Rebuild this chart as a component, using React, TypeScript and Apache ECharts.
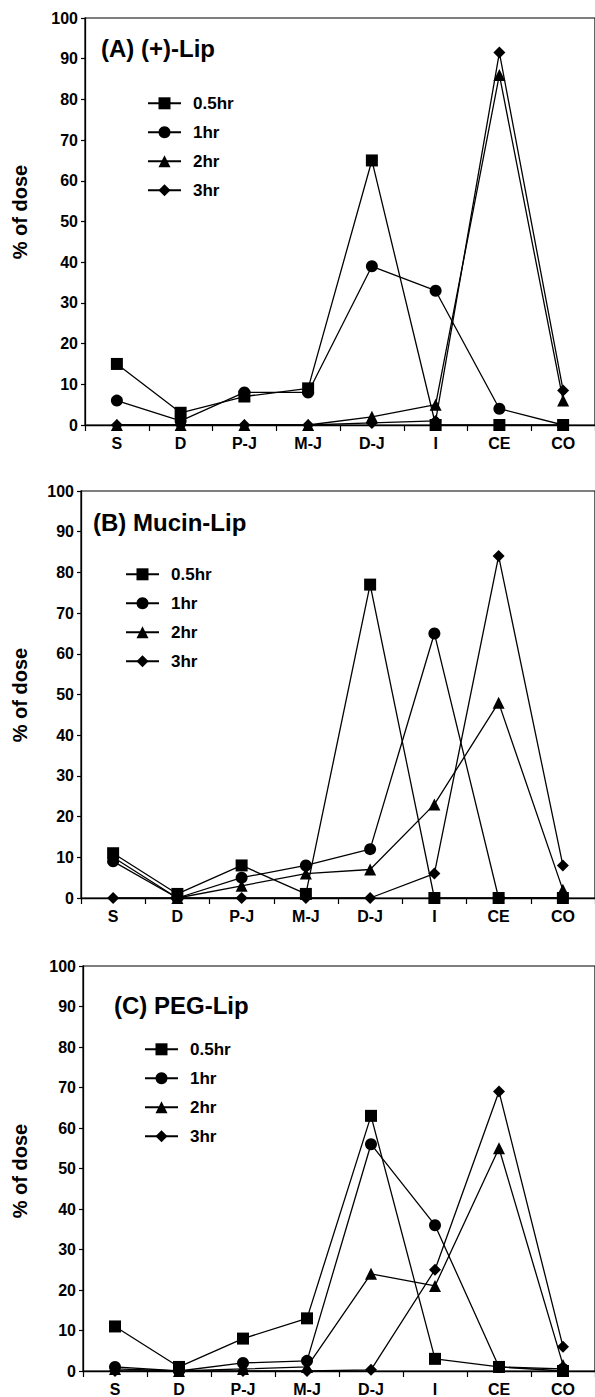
import React, { useEffect, useRef } from 'react';
import * as echarts from 'echarts';

const categories = ['S', 'D', 'P-J', 'M-J', 'D-J', 'I', 'CE', 'CO'];
const seriesNames = ['0.5hr', '1hr', '2hr', '3hr'];
const seriesSymbols = ['rect', 'circle', 'triangle', 'diamond'];
const seriesSymbolSizes = [12, 12, 12, 12];

const panelTitles = ['(A) (+)-Lip', '(B) Mucin-Lip', '(C) PEG-Lip'];
const yAxisTitle = '% of dose';

// Panel A: (+)-Lip
const A_05 = [15, 3, 7, 9, 65, 0, 0, 0];
const A_1 = [6, 1, 8, 8, 39, 33, 4, 0];
const A_2 = [0, 0, 0, 0, 2, 5, 86, 6];
const A_3 = [0, 0, 0, 0, 0.5, 1, 91.5, 8.5];

// Panel B: Mucin-Lip
const B_05 = [11, 1, 8, 1, 77, 0, 0, 0];
const B_1 = [9, 0, 5, 8, 12, 65, 0, 0];
const B_2 = [10, 0, 3, 6, 7, 23, 48, 2];
const B_3 = [0, 0, 0, 0, 0, 6, 84, 8];

// Panel C: PEG-Lip
const C_05 = [11, 1, 8, 13, 63, 3, 1, 0];
const C_1 = [1, 0, 2, 2.5, 56, 36, 1, 0.5];
const C_2 = [0.5, 0, 0.5, 1, 24, 21, 55, 1.5];
const C_3 = [0, 0, 0, 0, 0.3, 25, 69, 6];

const panelData = [
  [A_05, A_1, A_2, A_3],
  [B_05, B_1, B_2, B_3],
  [C_05, C_1, C_2, C_3],
];

const FONT = '"Liberation Sans", Arial, Helvetica, sans-serif';

// layout (pixels)
const grids = [
  { left: 85, top: 18, width: 514, height: 407 },
  { left: 81, top: 491, width: 515, height: 407 },
  { left: 83, top: 966, width: 515, height: 407 },
];
const titlePos = [
  { x: 101, y: 48 },
  { x: 93, y: 522 },
  { x: 114, y: 1005 },
];
const yTitlePos = [
  { x: 20, y: 212 },
  { x: 20, y: 695 },
  { x: 20, y: 1171 },
];
const legendPos = [
  { left: 147, top: 94.8 },
  { left: 125, top: 565.8 },
  { left: 144, top: 1040.8 },
];

export default function App() {
  const ref = useRef<HTMLDivElement>(null);
  useEffect(() => {
    if (!ref.current) return;
    const chart = echarts.init(ref.current, null, { renderer: 'svg' });
    const series: any[] = [];
    panelData.forEach((arrs, p) => {
      // draw 3hr first so 0.5hr is on top
      for (let s = 3; s >= 0; s--) {
        series.push({
          type: 'line',
          name: seriesNames[s],
          xAxisIndex: p,
          yAxisIndex: p,
          data: arrs[s],
          symbol: seriesSymbols[s],
          symbolSize: seriesSymbolSizes[s],
          showAllSymbol: true,
          lineStyle: { color: '#000', width: 1.3 },
          itemStyle: { color: '#000', borderWidth: 0 },
          emphasis: { disabled: true },
        });
      }
    });
    const option: any = {
      animation: false,
      backgroundColor: '#fff',
      grid: grids.map((g) => ({
        ...g,
        show: true,
        borderColor: '#000',
        borderWidth: 1.2,
        containLabel: false,
      })),
      xAxis: grids.map((_, i) => ({
        type: 'category',
        gridIndex: i,
        data: categories,
        boundaryGap: true,
        axisLine: { lineStyle: { color: '#000', width: 1.3 } },
        axisTick: { show: true, length: 6, lineStyle: { color: '#000', width: 1.2 } },
        axisLabel: {
          color: '#000',
          fontSize: 16,
          fontWeight: 'bold',
          fontFamily: FONT,
          margin: 10,
          interval: 0,
        },
        splitLine: { show: false },
      })),
      yAxis: grids.map((_, i) => ({
        type: 'value',
        gridIndex: i,
        min: 0,
        max: 100,
        interval: 10,
        axisLine: { show: true, lineStyle: { color: '#000', width: 1.3 } },
        axisTick: { show: true, length: 4, lineStyle: { color: '#000', width: 1.2 } },
        axisLabel: {
          color: '#000',
          fontSize: 16,
          fontWeight: 'bold',
          fontFamily: FONT,
          margin: 7,
        },
        splitLine: { show: false },
      })),
      legend: legendPos.map((lp) => ({
        data: seriesNames,
        orient: 'vertical',
        left: lp.left,
        top: lp.top,
        itemWidth: 33,
        itemHeight: 15,
        itemGap: 12,
        selectedMode: false,
        padding: 0,
        textStyle: {
          color: '#000',
          fontSize: 17,
          fontWeight: 'bold',
          fontFamily: FONT,
          padding: [0, 0, 0, 7],
          lineHeight: 15,
        },
      })),
      graphic: [
        ...panelTitles.map((t, i) => ({
          type: 'text',
          x: titlePos[i].x,
          y: titlePos[i].y,
          style: {
            text: t,
            fill: '#000',
            fontSize: 24,
            fontWeight: 'bold',
            fontFamily: FONT,
            align: 'left',
            verticalAlign: 'middle',
          },
        })),
        ...yTitlePos.map((p) => ({
          type: 'text',
          x: p.x,
          y: p.y,
          rotation: Math.PI / 2,
          style: {
            text: yAxisTitle,
            fill: '#000',
            fontSize: 20,
            fontWeight: 'bold',
            fontFamily: FONT,
            align: 'center',
            verticalAlign: 'middle',
          },
        })),
      ],
      series,
    };
    chart.setOption(option);
    return () => chart.dispose();
  }, []);
  return (
    <div
      ref={ref}
      style={{ position: 'absolute', left: 0, top: 0, width: 595, height: 1397, background: '#fff' }}
    />
  );
}
